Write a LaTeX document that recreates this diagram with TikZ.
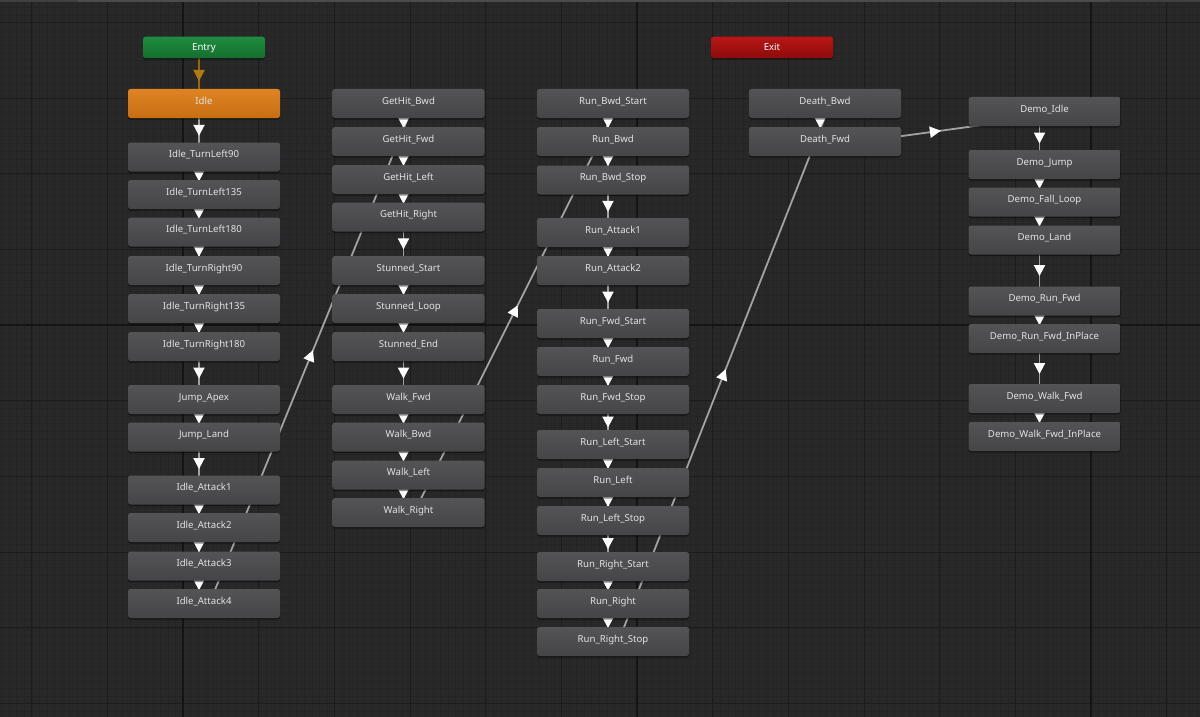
\documentclass[tikz,border=0pt]{standalone}
\usepackage{fontspec}
\setmainfont{Noto Sans}
\usetikzlibrary{calc,shadows,decorations.markings}

\definecolor{canvasbg}{HTML}{282828}
\definecolor{minorgrid}{HTML}{242424}
\definecolor{midgrid}{HTML}{1C1C1C}
\definecolor{majorgrid}{HTML}{141414}
\definecolor{statetop}{HTML}{545457}
\definecolor{statebot}{HTML}{454548}
\definecolor{statetext}{HTML}{E2E2E2}
\definecolor{idletop}{HTML}{DE8424}
\definecolor{idlebot}{HTML}{C76E12}
\definecolor{entrytop}{HTML}{1F8C40}
\definecolor{entrybot}{HTML}{146E2E}
\definecolor{exittop}{HTML}{B81616}
\definecolor{exitbot}{HTML}{8E0B0B}
\definecolor{transgray}{HTML}{A2A2A2}
\definecolor{entryline}{HTML}{9A6608}
\definecolor{entrytip}{HTML}{B07A10}

\pgfdeclarelayer{grid}
\pgfdeclarelayer{edges}
\pgfsetlayers{grid,edges,main}

\tikzset{
  state/.style={rectangle, rounded corners=2.5pt, minimum width=152pt,
    minimum height=29pt, inner sep=0pt, text=statetext,
    font=\fontsize{9.6}{11}\selectfont, text height=7pt, text depth=5.5pt,
    drop shadow={shadow xshift=0pt, shadow yshift=-1.5pt, opacity=0.45, fill=black}},
  plainstate/.style={state, top color=statetop, bottom color=statebot},
  idlestate/.style={state, top color=idletop, bottom color=idlebot},
  entrystate/.style={state, minimum width=122pt, minimum height=21.5pt,
    text depth=0pt, text=white, top color=entrytop, bottom color=entrybot},
  exitstate/.style={state, minimum width=122pt, minimum height=21.5pt,
    text depth=0pt, text=white, top color=exittop, bottom color=exitbot},
  midtip/.style={postaction={decorate}, decoration={markings,
    mark=at position 0.5 with {\fill[#1] (5.5pt,0pt) -- (-5.5pt,5.8pt) -- (-5.5pt,-5.8pt) -- cycle;}}},
  trans/.style={draw=transgray, line width=1.8pt, midtip=white},
  entrytrans/.style={draw=entryline, line width=1.8pt, midtip=entrytip},
  minorline/.style={draw=minorgrid, line width=0.6pt},
  midline/.style={draw=midgrid, line width=0.9pt},
  majorline/.style={draw=majorgrid, line width=1.3pt}
}

\begin{document}
\begin{tikzpicture}[x=1pt,y=-1pt]
  \useasboundingbox (0,0) rectangle (1200,717);

  % background grid
  \begin{pgfonlayer}{grid}
    \fill[canvasbg] (0,0) rectangle (1200,717);
    \foreach \i in {0,...,158} \draw[minorline] ({1.56+\i*7.567},0) -- ++(0,717);
    \foreach \i in {0,...,93} \draw[minorline] (0,{7.48+\i*7.567}) -- ++(1200,0);
    \foreach \i in {0,...,15} \draw[midline] ({31.7+\i*75.67},0) -- ++(0,717);
    \foreach \i in {0,...,9} \draw[midline] (0,{22.3+\i*75.67}) -- ++(1200,0);
    \foreach \gx in {183,637,1091} \draw[majorline] (\gx,0) -- ++(0,717);
    \draw[majorline] (0,325) -- ++(1200,0);
    \fill[black!75!white] (0,0) rectangle (1200,2.5);
    \fill[black!70!white] (78,0) rectangle (1110,2.5);
  \end{pgfonlayer}

  % entry column
  \node[entrystate] (Entry) at (204,47.5) {Entry};
  \node[idlestate] (Idle) at (204,103.5) {Idle};
  \node[plainstate] (IdleTL90) at (204,157) {Idle\_TurnLeft90};
  \node[plainstate] (IdleTL135) at (204,194.5) {Idle\_TurnLeft135};
  \node[plainstate] (IdleTL180) at (204,232) {Idle\_TurnLeft180};
  \node[plainstate] (IdleTR90) at (204,270.5) {Idle\_TurnRight90};
  \node[plainstate] (IdleTR135) at (204,308.5) {Idle\_TurnRight135};
  \node[plainstate] (IdleTR180) at (204,346.5) {Idle\_TurnRight180};
  \node[plainstate] (JumpApex) at (204,399.5) {Jump\_Apex};
  \node[plainstate] (JumpLand) at (204,437) {Jump\_Land};
  \node[plainstate] (IdleAtk1) at (204,490) {Idle\_Attack1};
  \node[plainstate] (IdleAtk2) at (204,527.5) {Idle\_Attack2};
  \node[plainstate] (IdleAtk3) at (204,566) {Idle\_Attack3};
  \node[plainstate] (IdleAtk4) at (204,603.5) {Idle\_Attack4};

  % hit / walk column
  \node[plainstate] (GetHitBwd) at (408.5,103.5) {GetHit\_Bwd};
  \node[plainstate] (GetHitFwd) at (408.5,141.5) {GetHit\_Fwd};
  \node[plainstate] (GetHitLeft) at (408.5,179.5) {GetHit\_Left};
  \node[plainstate] (GetHitRight) at (408.5,217) {GetHit\_Right};
  \node[plainstate] (StunStart) at (408.5,270.5) {Stunned\_Start};
  \node[plainstate] (StunLoop) at (408.5,308.5) {Stunned\_Loop};
  \node[plainstate] (StunEnd) at (408.5,346.5) {Stunned\_End};
  \node[plainstate] (WalkFwd) at (408.5,399.5) {Walk\_Fwd};
  \node[plainstate] (WalkBwd) at (408.5,437) {Walk\_Bwd};
  \node[plainstate] (WalkLeft) at (408.5,475) {Walk\_Left};
  \node[plainstate] (WalkRight) at (408.5,512.5) {Walk\_Right};

  % run column
  \node[plainstate] (RunBwdStart) at (613,103.5) {Run\_Bwd\_Start};
  \node[plainstate] (RunBwd) at (613,141.5) {Run\_Bwd};
  \node[plainstate] (RunBwdStop) at (613,180) {Run\_Bwd\_Stop};
  \node[plainstate] (RunAtk1) at (613,232.5) {Run\_Attack1};
  \node[plainstate] (RunAtk2) at (613,270.5) {Run\_Attack2};
  \node[plainstate] (RunFwdStart) at (613,323.5) {Run\_Fwd\_Start};
  \node[plainstate] (RunFwd) at (613,361.5) {Run\_Fwd};
  \node[plainstate] (RunFwdStop) at (613,399.5) {Run\_Fwd\_Stop};
  \node[plainstate] (RunLeftStart) at (613,444.5) {Run\_Left\_Start};
  \node[plainstate] (RunLeft) at (613,482.5) {Run\_Left};
  \node[plainstate] (RunLeftStop) at (613,520.5) {Run\_Left\_Stop};
  \node[plainstate] (RunRightStart) at (613,566.5) {Run\_Right\_Start};
  \node[plainstate] (RunRight) at (613,603.5) {Run\_Right};
  \node[plainstate] (RunRightStop) at (613,641.5) {Run\_Right\_Stop};

  % death column
  \node[exitstate] (Exit) at (772,47.5) {Exit};
  \node[plainstate] (DeathBwd) at (825,103.5) {Death\_Bwd};
  \node[plainstate] (DeathFwd) at (825,141.5) {Death\_Fwd};

  % demo column
  \node[plainstate] (DemoIdle) at (1044.5,111.5) {Demo\_Idle};
  \node[plainstate] (DemoJump) at (1044.5,164.5) {Demo\_Jump};
  \node[plainstate] (DemoFallLoop) at (1044.5,202) {Demo\_Fall\_Loop};
  \node[plainstate] (DemoLand) at (1044.5,240) {Demo\_Land};
  \node[plainstate] (DemoRunFwd) at (1044.5,301) {Demo\_Run\_Fwd};
  \node[plainstate] (DemoRunFwdIP) at (1044.5,338.5) {Demo\_Run\_Fwd\_InPlace};
  \node[plainstate] (DemoWalkFwd) at (1044.5,398.5) {Demo\_Walk\_Fwd};
  \node[plainstate] (DemoWalkFwdIP) at (1044.5,436.5) {Demo\_Walk\_Fwd\_InPlace};

  % transitions, shifted to the right of their direction
  \begin{pgfonlayer}{edges}
    \draw[entrytrans] ($(Entry)!5pt!-90:(Idle)$) -- ($(Idle)!5pt!90:(Entry)$);
    \foreach \a/\b in {Idle/IdleTL90, IdleTL90/IdleTL135, IdleTL135/IdleTL180,
        IdleTL180/IdleTR90, IdleTR90/IdleTR135, IdleTR135/IdleTR180,
        IdleTR180/JumpApex, JumpApex/JumpLand, JumpLand/IdleAtk1,
        IdleAtk1/IdleAtk2, IdleAtk2/IdleAtk3, IdleAtk3/IdleAtk4,
        IdleAtk4/GetHitBwd,
        GetHitBwd/GetHitFwd, GetHitFwd/GetHitLeft, GetHitLeft/GetHitRight,
        GetHitRight/StunStart, StunStart/StunLoop, StunLoop/StunEnd,
        StunEnd/WalkFwd, WalkFwd/WalkBwd, WalkBwd/WalkLeft, WalkLeft/WalkRight,
        WalkRight/RunBwdStart,
        RunBwdStart/RunBwd, RunBwd/RunBwdStop, RunBwdStop/RunAtk1,
        RunAtk1/RunAtk2, RunAtk2/RunFwdStart, RunFwdStart/RunFwd,
        RunFwd/RunFwdStop, RunFwdStop/RunLeftStart, RunLeftStart/RunLeft,
        RunLeft/RunLeftStop, RunLeftStop/RunRightStart,
        RunRightStart/RunRight, RunRight/RunRightStop,
        RunRightStop/DeathBwd,
        DeathBwd/DeathFwd, DeathFwd/DemoIdle,
        DemoIdle/DemoJump, DemoJump/DemoFallLoop, DemoFallLoop/DemoLand,
        DemoLand/DemoRunFwd, DemoRunFwd/DemoRunFwdIP,
        DemoRunFwdIP/DemoWalkFwd, DemoWalkFwd/DemoWalkFwdIP}
      \draw[trans] ($(\a)!5pt!-90:(\b)$) -- ($(\b)!5pt!90:(\a)$);
  \end{pgfonlayer}
\end{tikzpicture}
\end{document}
